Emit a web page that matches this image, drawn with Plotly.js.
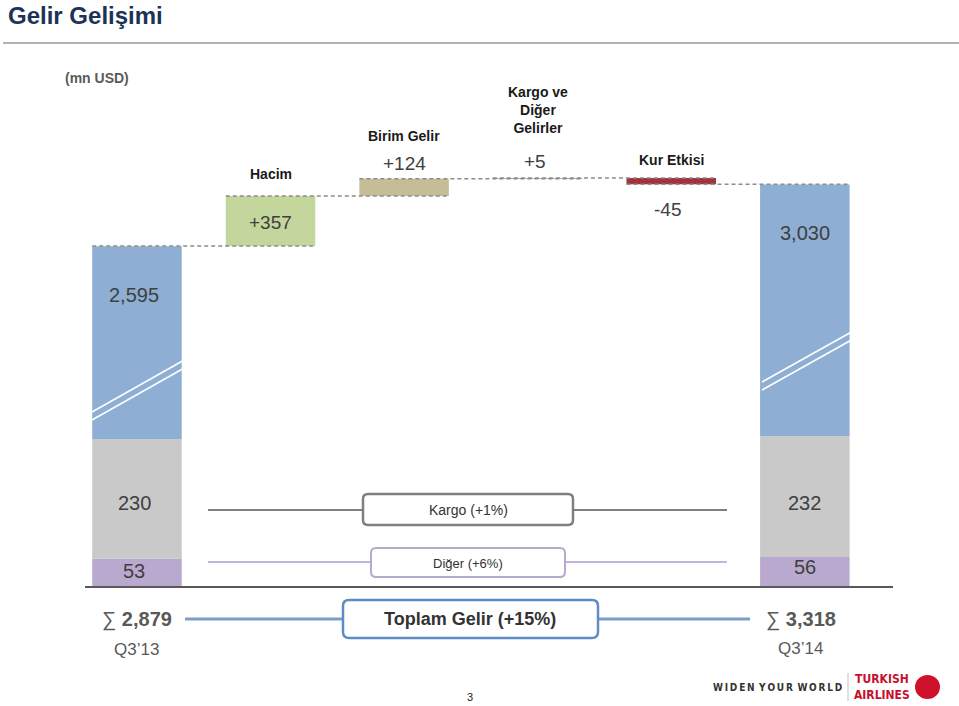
<!DOCTYPE html>
<html><head><meta charset="utf-8">
<script src="https://cdn.plot.ly/plotly-3.0.1.min.js"></script>
<style>html,body{margin:0;padding:0;background:#fff}</style>
</head><body><div id="chart" style="width:959px;height:706px"></div>
<script>
// ---- data ----
const endLabels = ['Q3’13', 'Q3’14'];
const paxRevenue = [2595, 3030];
const cargoRevenue = [230, 232];
const otherRevenue = [53, 56];
const totalRevenue = [2879, 3318];
const stepLabels = ['Hacim', 'Birim Gelir', 'Kargo ve<br>Diğer<br>Gelirler', 'Kur Etkisi'];
const stepValues = [357, 124, 5, -45];
const growthLabels = ['Kargo (+1%)', 'Diğer (+6%)', 'Toplam Gelir (+15%)'];
const unitLabel = '(mn USD)';

// ---- layout helpers ----
const W = 959, H = 706;
const L = 85, R = 893, T = 80, B = 586;
const px2x = p => (p - L) / (R - L);
const px2y = p => (B - p) / (B - T);
const FONT = 'Liberation Sans, Arial, sans-serif';
const endX = [0, 5];
const stepX = [1, 2, 3, 4];
const BW = 0.67;

const cBlue = '#8eaed4', cGray = '#c9c9c9', cPurple = '#b9a9cf';
const stepColors = ['#c3d69b', '#c4bd97', '#a5a5a5', '#a3333a'];

// cumulative bases for the waterfall steps
const stepBase = [];
let run = totalRevenue[0];
stepValues.forEach(v => { stepBase.push(run); run += v; });
const lowerBase = otherRevenue.map((o, i) => o + cargoRevenue[i]);

const traces = [];
// lower panel (bottom segments)
traces.push({type:'bar', x:endX, y:otherRevenue, base:[0,0], width:BW, marker:{color:cPurple}, xaxis:'x', yaxis:'y', hoverinfo:'skip'});
traces.push({type:'bar', x:endX, y:cargoRevenue, base:otherRevenue, width:BW, marker:{color:cGray}, xaxis:'x', yaxis:'y', hoverinfo:'skip'});
traces.push({type:'bar', x:endX, y:paxRevenue, base:lowerBase, width:BW, marker:{color:cBlue}, xaxis:'x', yaxis:'y', hoverinfo:'skip'});
// upper panel
traces.push({type:'bar', x:endX, y:paxRevenue, base:lowerBase, width:BW, marker:{color:cBlue}, xaxis:'x', yaxis:'y2', hoverinfo:'skip'});
traces.push({type:'bar', x:stepX, y:stepValues, base:stepBase, width:BW, marker:{color:stepColors}, xaxis:'x', yaxis:'y2', hoverinfo:'skip'});

// dashed connectors
const levels = [totalRevenue[0]].concat(stepBase.slice(1)).concat([run]);
const cx = [], cy = [];
levels.forEach((lv, i) => {
  cx.push(i - BW/2, i + 1 + BW/2, null);
  cy.push(lv, lv, null);
});
traces.push({type:'scatter', mode:'lines', x:cx, y:cy, xaxis:'x', yaxis:'y2',
  line:{color:'#8c8c8c', width:1.5, dash:'4px,3px'}, hoverinfo:'skip', connectgaps:false});

// ---- annotations ----
const ann = [];
function A(x, xref, yPx, text, size, opt) {
  ann.push(Object.assign({x:x, xref:xref, y:px2y(yPx), yref:'paper', text:text, showarrow:false,
    xanchor:'center', yanchor:'middle', font:{family:FONT, size:size, color:'#404040'}}, opt||{}));
}
const fmt = v => v.toLocaleString('en-US');
const sgn = v => (v > 0 ? '+' : '') + v;

// step labels & values
const stepLabelY = [174, 136, 110, 160];
const stepValueY = [222, 163, 162, 210];
stepLabels.forEach((t, i) => A(stepX[i], 'x', stepLabelY[i], '<b>'+t+'</b>', 14, {font:{family:FONT,size:14,color:'#1a1a1a'}}));
stepValues.forEach((v, i) => A(stepX[i] + (i===2?-0.02:(i===3?-0.03:0)), 'x', stepValueY[i], sgn(v), 19));
// end bars
A(endX[0]-0.02, 'x', 295, fmt(paxRevenue[0]), 20);
A(endX[1], 'x', 233, fmt(paxRevenue[1]), 20);
A(endX[0]-0.02, 'x', 503, fmt(cargoRevenue[0]), 20);
A(endX[1], 'x', 503, fmt(cargoRevenue[1]), 20);
A(endX[0]-0.02, 'x', 571, fmt(otherRevenue[0]), 20);
A(endX[1], 'x', 567, fmt(otherRevenue[1]), 20);
// growth boxes text
A(px2x(468), 'paper', 510, growthLabels[0], 14, {font:{family:FONT,size:14,color:'#333'}});
A(px2x(468), 'paper', 563, growthLabels[1], 13, {font:{family:FONT,size:13,color:'#333'}});
A(px2x(470), 'paper', 619, '<b>'+growthLabels[2]+'</b>', 18, {font:{family:FONT,size:18,color:'#333'}});
// totals
A(endX[0], 'x', 619, '∑ <b>'+fmt(totalRevenue[0])+'</b>', 20, {font:{family:FONT,size:20,color:'#595959'}});
A(endX[1]-0.03, 'x', 619, '∑ <b>'+fmt(totalRevenue[1])+'</b>', 20, {font:{family:FONT,size:20,color:'#595959'}});
A(endX[0], 'x', 649, endLabels[0], 17, {font:{family:FONT,size:17,color:'#595959'}});
A(endX[1]-0.03, 'x', 648, endLabels[1], 17, {font:{family:FONT,size:17,color:'#595959'}});
// unit
A(px2x(63), 'paper', 78, '<b>'+unitLabel+'</b>', 14, {xanchor:'left', font:{family:FONT,size:14,color:'#5a5a5a'}});
// footer
A(px2x(470), 'paper', 697, '3', 11, {font:{family:FONT,size:11,color:'#222'}});
const spaced = s => s.split(' ').map(w => w.split('').join('\u2009')).join('\u2002');
A(px2x(777), 'paper', 687, '<b>'+spaced('WIDEN YOUR WORLD')+'</b>', 10, {font:{family:'DejaVu Sans Condensed, DejaVu Sans',size:10,color:'#333'}});
A(px2x(882), 'paper', 687, '<b>TURKISH<br>AIRLINES</b>', 12, {font:{family:'Liberation Sans Narrow, DejaVu Sans Condensed, Arial Narrow, sans-serif',size:12,color:'#c8102e'}});

// ---- shapes ----
const shapes = [];
function line(x0,y0,x1,y1,color,width,extra){
  shapes.push(Object.assign({type:'line', xref:'paper', yref:'paper', x0:px2x(x0), x1:px2x(x1), y0:px2y(y0), y1:px2y(y1),
    line:{color:color, width:width}}, extra||{}));
}
function rrect(x0,y0,x1,y1,r,stroke,sw,fill){
  const X = p => px2x(p).toFixed(5), Y = p => px2y(p).toFixed(5);
  const path = `M${X(x0+r)},${Y(y0)} L${X(x1-r)},${Y(y0)} Q${X(x1)},${Y(y0)} ${X(x1)},${Y(y0+r)} `+
    `L${X(x1)},${Y(y1-r)} Q${X(x1)},${Y(y1)} ${X(x1-r)},${Y(y1)} L${X(x0+r)},${Y(y1)} `+
    `Q${X(x0)},${Y(y1)} ${X(x0)},${Y(y1-r)} L${X(x0)},${Y(y0+r)} Q${X(x0)},${Y(y0)} ${X(x0+r)},${Y(y0)} Z`;
  shapes.push({type:'path', xref:'paper', yref:'paper', path:path, fillcolor:fill, line:{color:stroke, width:sw}});
}
// title rule
line(3, 43, 959, 43, '#b3b3b3', 2);
// axis break marks
line(92, 412, 186, 359, '#ffffff', 1.6);
line(92, 420, 186, 367, '#ffffff', 1.6);
line(762, 382, 855, 330, '#ffffff', 1.6);
line(762, 390, 855, 338, '#ffffff', 1.6);
// growth connectors
line(208, 510, 727, 510, '#7f7f7f', 2);
rrect(363, 494, 573, 525, 5, '#808080', 2.5, '#ffffff');
line(208, 562, 727, 562, '#c3b6d8', 2);
rrect(371, 548, 565, 577, 5, '#b7a9d0', 2, '#ffffff');
line(185, 619, 750, 619, '#7c9ec9', 3);
rrect(343, 600, 598, 638, 6, '#5f8cc2', 2.5, '#ffffff');
// footer logo
line(848, 673, 848, 701, '#c0c0c0', 1);
shapes.push({type:'circle', xref:'paper', yref:'paper', x0:px2x(915), x1:px2x(940), y0:px2y(675), y1:px2y(699), fillcolor:'#d0112b', line:{width:0}});

const layout = {
  width:W, height:H, margin:{l:L, r:W-R, t:T, b:H-B, pad:0},
  paper_bgcolor:'#fff', plot_bgcolor:'#fff',
  showlegend:false, barmode:'overlay',
  title:{text:'<b>Gelir Gelişimi</b>', x:8/W, xanchor:'left', xref:'container', y:1-16/H, yref:'container', yanchor:'middle',
    font:{family:FONT, size:24, color:'#1b3357'}},
  xaxis:{range:[-0.389, 5.66], showgrid:false, zeroline:false, showticklabels:false, ticks:'',
    showline:true, linecolor:'#595959', linewidth:2, anchor:'y', fixedrange:true},
  yaxis:{domain:[0, px2y(400)], range:[0, 358], visible:false, fixedrange:true},
  yaxis2:{domain:[px2y(400), 1], range:[1779, 4065], visible:false, anchor:'x', fixedrange:true},
  annotations:ann, shapes:shapes
};
Plotly.newPlot('chart', traces, layout, {displayModeBar:false, staticPlot:true});
</script></body></html>
